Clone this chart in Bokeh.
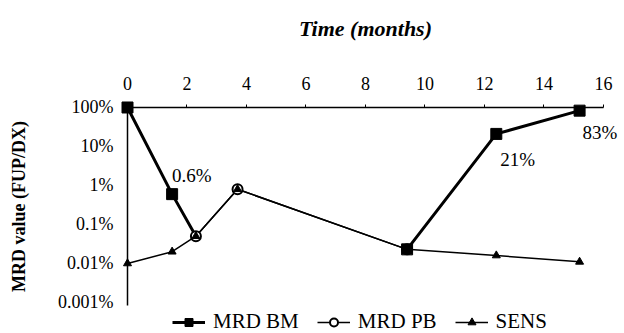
import math

from bokeh.core.properties import value
from bokeh.embed import file_html
from bokeh.models import (ColumnDataSource, CustomJSTickFormatter, FixedTicker,
                          Legend, LegendItem, Range1d)
from bokeh.plotting import figure
from bokeh.resources import INLINE

nan = math.nan

# Follow-up time points (months) and MRD values (% of diagnosis level)
months = [0, 1.5, 2.3, 3.7, 9.4, 12.4, 15.2]
mrd_bm = [100, 0.6, 0.05, nan, 0.023, 21, 83]
mrd_pb = [nan, nan, 0.05, 0.8, 0.023, nan, nan]
sens = [0.01, 0.02, 0.05, 0.8, 0.023, 0.016, 0.011]

# Which bone-marrow points get a square marker / a value label
bm_square = [True, True, False, False, True, True, True]
bm_labelled = [False, True, False, False, False, True, True]

x_ticks = [0, 2, 4, 6, 8, 10, 12, 14, 16]
y_ticks = [0.001, 0.01, 0.1, 1, 10, 100]
y_tick_labels = ["0.001%", "0.01%", "0.1%", "1%", "10%", "100%"]

series_names = ["MRD BM", "MRD PB", "SENS"]
x_title = "Time (months)"
y_title = "MRD value (FUP/DX)"

# label placement (pixels relative to the point), styling only
label_dx = [0, 0, 0, 0, 0, 4, 3]
label_dy = [0, -19, 0, 0, 0, 26, 22]

SERIF = "Liberation Serif"

# The plotting area fills the whole canvas; both axes sit inside it at
# fixed data locations, so nothing is clipped at the data edges.
p = figure(
    width=624, height=333, output_backend="svg", toolbar_location=None,
    x_range=Range1d(-4.27, 16.71), y_range=Range1d(0.00016, 55400),
    y_axis_type="log", x_axis_location="above", y_axis_location="left",
    min_border=0,
)
p.outline_line_color = None
p.grid.visible = False
p.background_fill_color = "white"
p.border_fill_color = "white"

# top time axis, drawn along the 100% line
xa = p.xaxis[0]
xa.ticker = FixedTicker(ticks=x_ticks, minor_ticks=[])
xa.fixed_location = y_ticks[-1]
xa.bounds = (x_ticks[0], x_ticks[-1])
xa.axis_line_color = "black"
xa.axis_line_width = 1.5
xa.major_tick_out = 3
xa.major_tick_in = 0
xa.minor_tick_out = 0
xa.minor_tick_in = 0
xa.major_tick_line_color = "black"
xa.major_label_standoff = 14
xa.major_label_text_font = SERIF
xa.major_label_text_font_size = "18px"
xa.major_label_text_color = "black"
xa.axis_label = x_title
xa.axis_label_text_font = SERIF
xa.axis_label_text_font_style = "bold italic"
xa.axis_label_text_font_size = "22px"
xa.axis_label_text_color = "black"
xa.axis_label_standoff = 34

# MRD axis, drawn at time zero
ya = p.yaxis[0]
ya.ticker = FixedTicker(ticks=y_ticks, minor_ticks=[])
ya.formatter = CustomJSTickFormatter(
    args=dict(yvals=y_ticks, ylabels=y_tick_labels),
    code="""
    let best = 0, d = Infinity;
    for (let i = 0; i < yvals.length; i++) {
      const e = Math.abs(Math.log10(yvals[i]) - Math.log10(tick));
      if (e < d) { d = e; best = i; }
    }
    return ylabels[best];
    """,
)
ya.fixed_location = x_ticks[0]
ya.bounds = (0.00085, y_ticks[-1])
ya.axis_line_color = "black"
ya.axis_line_width = 1.5
ya.major_tick_out = 0
ya.major_tick_in = 0
ya.minor_tick_out = 0
ya.minor_tick_in = 0
ya.major_label_standoff = 14
ya.major_label_text_font = SERIF
ya.major_label_text_font_size = "18px"
ya.major_label_text_color = "black"
ya.axis_label = y_title
ya.axis_label_text_font = SERIF
ya.axis_label_text_font_style = "bold"
ya.axis_label_text_font_size = "18px"
ya.axis_label_text_color = "black"
ya.axis_label_standoff = 26

# lines
bm_line = p.line(months, mrd_bm, line_color="black", line_width=3)
sens_line = p.line(months, sens, line_color="black", line_width=1.5)
pb_line = p.line(months, mrd_pb, line_color="black", line_width=1.5)

# markers
pb_pts = p.scatter(months, mrd_pb, marker="circle", size=10,
                   fill_color="white", line_color="black", line_width=2)
sens_pts = p.scatter(months, sens, marker="triangle", size=8,
                     fill_color="black", line_color="black")
bm_x = [t for t, s in zip(months, bm_square) if s]
bm_y = [v for v, s in zip(mrd_bm, bm_square) if s]
bm_pts = p.scatter(bm_x, bm_y, marker="square", size=11,
                   fill_color="black", line_color="black")

# value labels on bone-marrow points
lab = ColumnDataSource(dict(
    x=[t for t, f in zip(months, bm_labelled) if f],
    y=[v for v, f in zip(mrd_bm, bm_labelled) if f],
    text=[f"{v:g}%" for v, f in zip(mrd_bm, bm_labelled) if f],
    dx=[d for d, f in zip(label_dx, bm_labelled) if f],
    dy=[d for d, f in zip(label_dy, bm_labelled) if f],
))
p.text(x="x", y="y", text="text", x_offset="dx", y_offset="dy", source=lab,
       text_font=value(SERIF), text_font_size="19px", text_color="black",
       text_align="left", text_baseline="middle")

# legend along the bottom edge
legend = Legend(
    items=[
        LegendItem(label=series_names[0], renderers=[bm_line, bm_pts]),
        LegendItem(label=series_names[1], renderers=[pb_line, pb_pts]),
        LegendItem(label=series_names[2], renderers=[sens_line, sens_pts]),
    ],
    orientation="horizontal", location=(172, -1),
    label_text_font=SERIF, label_text_font_size="21px", label_text_color="black",
    glyph_width=33, glyph_height=20, label_height=20, label_standoff=8,
    spacing=18, padding=0, margin=0, border_line_color=None,
    background_fill_alpha=0,
)
p.add_layout(legend, "center")

open("out.html", "w").write(file_html(p, INLINE))
